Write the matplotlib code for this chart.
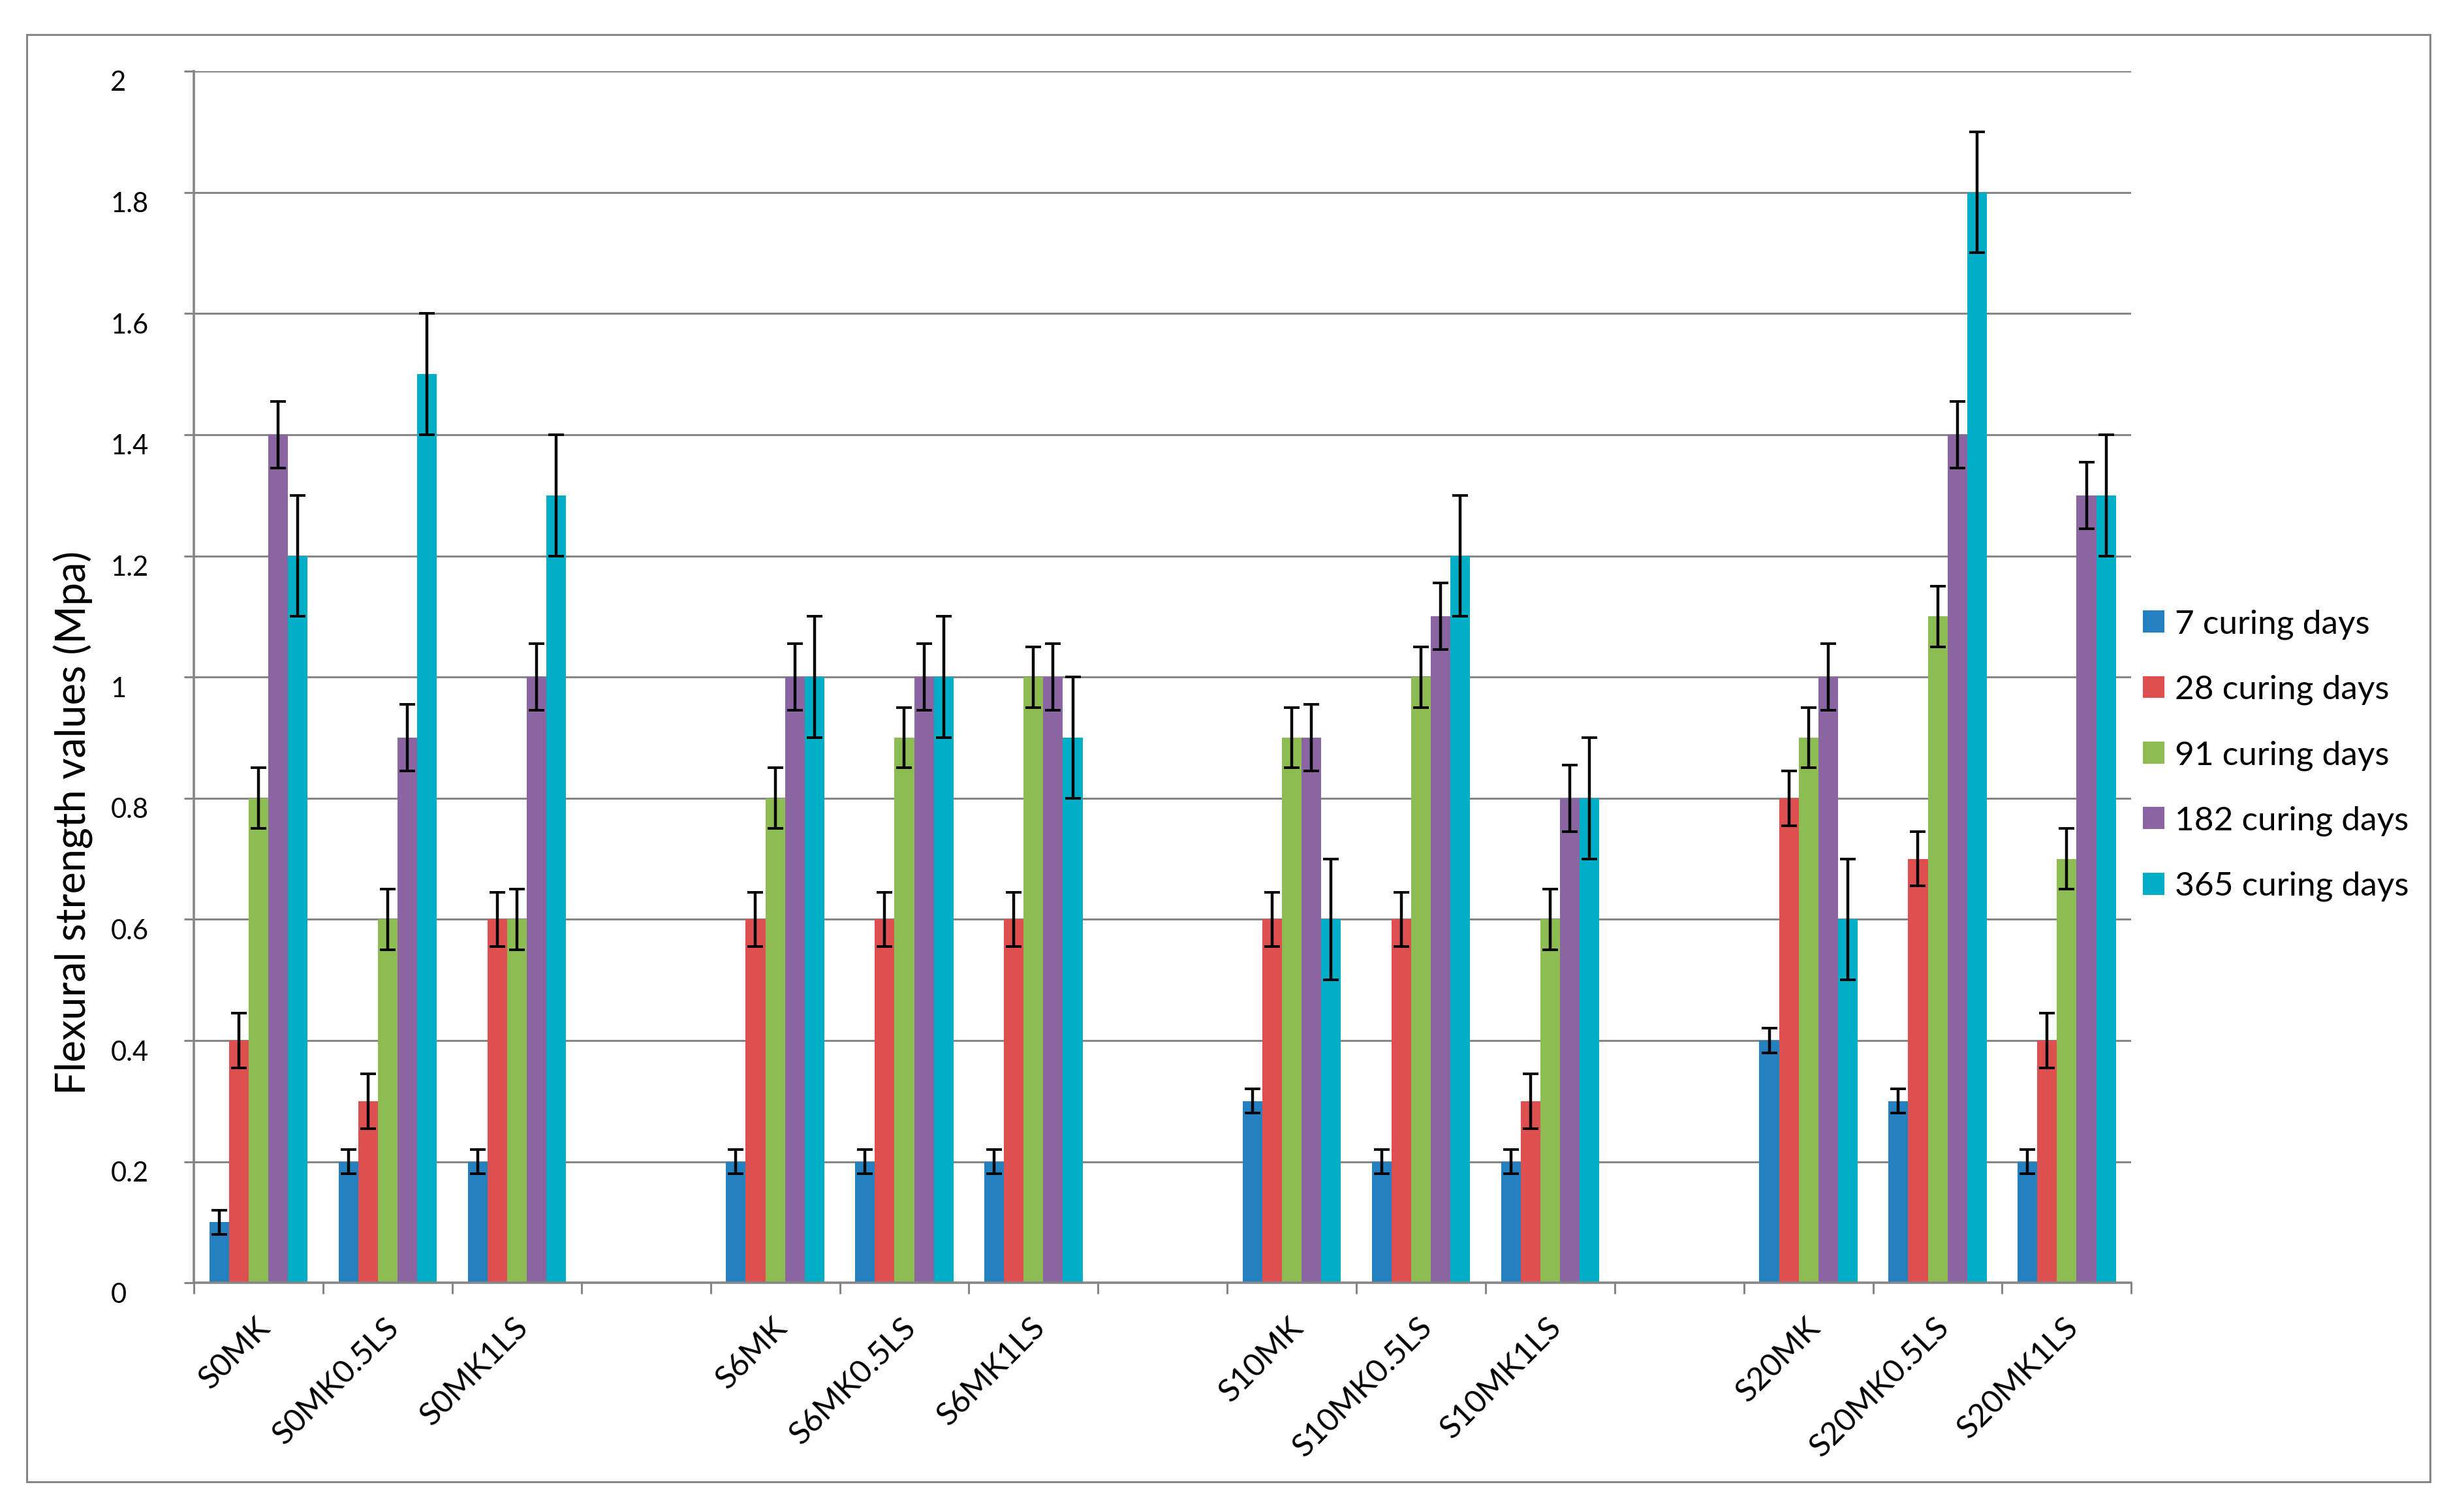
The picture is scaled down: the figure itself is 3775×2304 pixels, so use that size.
import numpy as np
import matplotlib.pyplot as plt
from matplotlib.patches import Rectangle
from matplotlib.transforms import ScaledTranslation

# Chart data (blank strings / nan mark the empty gaps between families)
categories = ['S0MK', 'S0MK0.5LS', 'S0MK1LS', '',
              'S6MK', 'S6MK0.5LS', 'S6MK1LS', '',
              'S10MK', 'S10MK0.5LS', 'S10MK1LS', '',
              'S20MK', 'S20MK0.5LS', 'S20MK1LS']
nan = np.nan
days_7 = [0.1, 0.2, 0.2, nan, 0.2, 0.2, 0.2, nan, 0.3, 0.2, 0.2, nan, 0.4, 0.3, 0.2]
days_28 = [0.4, 0.3, 0.6, nan, 0.6, 0.6, 0.6, nan, 0.6, 0.6, 0.3, nan, 0.8, 0.7, 0.4]
days_91 = [0.8, 0.6, 0.6, nan, 0.8, 0.9, 1.0, nan, 0.9, 1.0, 0.6, nan, 0.9, 1.1, 0.7]
days_182 = [1.4, 0.9, 1.0, nan, 1.0, 1.0, 1.0, nan, 0.9, 1.1, 0.8, nan, 1.0, 1.4, 1.3]
days_365 = [1.2, 1.5, 1.3, nan, 1.0, 1.0, 0.9, nan, 0.6, 1.2, 0.8, nan, 0.6, 1.8, 1.3]
series_labels = ['7 curing days', '28 curing days', '91 curing days',
                 '182 curing days', '365 curing days']
errors = [0.02, 0.045, 0.05, 0.055, 0.1]
y_ticks = [0, 0.2, 0.4, 0.6, 0.8, 1, 1.2, 1.4, 1.6, 1.8, 2]
y_ticklabels = ['0', '0.2', '0.4', '0.6', '0.8', '1', '1.2', '1.4', '1.6', '1.8', '2']

colors = ['#2480BF', '#DE5050', '#8DBC52', '#8A65A2', '#00AEC7']
grey = '#868686'

plt.rcParams['font.family'] = ['Lato', 'DejaVu Sans']

fig = plt.figure(figsize=(18.875, 11.52), dpi=200)
ax = fig.add_axes([0.0787, 0.147, 0.865 - 0.0787, 0.9527 - 0.147])

series = [days_7, days_28, days_91, days_182, days_365]
n = len(categories)
centers = np.arange(n) + 0.5
w = 0.152
for j, (vals, lab, col, err) in enumerate(zip(series, series_labels, colors, errors)):
    xs = centers + (j - 2) * w
    ax.bar(xs, vals, width=w, color=col, label=lab, zorder=2)
    ax.errorbar(xs, vals, yerr=err, fmt='none', ecolor='black',
                elinewidth=1.6, capsize=4.3, capthick=1.4, zorder=3)

ax.set_xlim(0, n)
ax.set_ylim(0, 2)

# grid + spines
ax.set_yticks(y_ticks)
ax.set_yticklabels(y_ticklabels)
ax.yaxis.grid(True, color=grey, linewidth=1.1, zorder=0)
ax.set_axisbelow(True)
for s in ['top', 'right']:
    ax.spines[s].set_visible(False)
for s in ['left', 'bottom']:
    ax.spines[s].set_color(grey)
    ax.spines[s].set_linewidth(1.3)

ax.tick_params(axis='y', length=5.4, width=1.1, color=grey, pad=40.6, labelsize=15)
for lbl in ax.get_yticklabels():
    lbl.set_horizontalalignment('left')
    lbl.set_transform(lbl.get_transform() + ScaledTranslation(0, -15 / 200, fig.dpi_scale_trans))

# x ticks at category boundaries, labels at centres
ax.set_xticks(np.arange(n + 1))
ax.set_xticklabels([])
ax.set_xticks(centers, minor=True)
ax.set_xticklabels(categories, minor=True, rotation=45, ha='right',
                   va='center', rotation_mode='anchor', fontsize=17.5)
ax.tick_params(axis='x', which='major', length=6, width=1.1, color=grey)
ax.tick_params(axis='x', which='minor', length=0, pad=22)
for lbl in ax.get_xticklabels(minor=True):
    lbl.set_transform(lbl.get_transform() + ScaledTranslation(10 / 200, 0, fig.dpi_scale_trans))

ax.set_ylabel('Flexural strength values (Mpa)', fontsize=22.7)
ax.yaxis.set_label_coords(-0.052, 0.38)

fig.legend(loc='upper left', bbox_to_anchor=(0.8697, 0.595), frameon=False,
           fontsize=18.5, handlelength=0.64, handleheight=0.64,
           handletextpad=0.31, labelspacing=1.05, borderpad=0, borderaxespad=0)

fig.patches.append(Rectangle((0.0109, 0.0148), 0.9862 - 0.0109, 0.977 - 0.0148,
                             transform=fig.transFigure, fill=False,
                             edgecolor=grey, linewidth=1.1))

fig.savefig('out.png', dpi=200)
